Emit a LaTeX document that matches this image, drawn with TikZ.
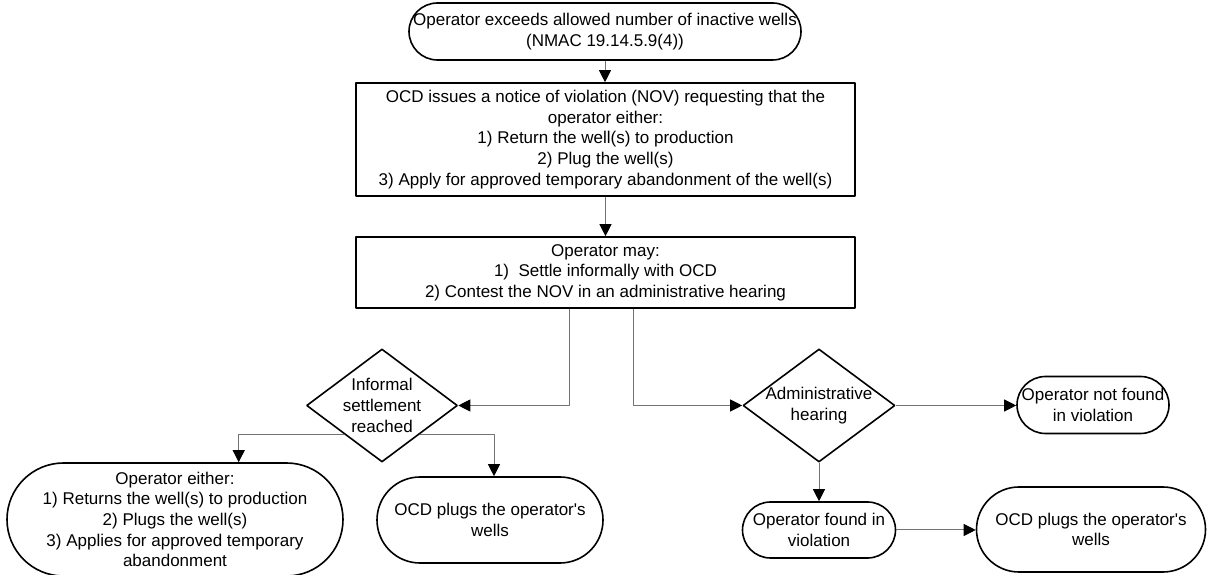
\documentclass[tikz,border=0pt]{standalone}
\usepackage{fontspec}
\setmainfont{Liberation Sans}[Ligatures=TeXOff]
\usetikzlibrary{arrows.meta,shapes.geometric}
\begin{document}
\begin{tikzpicture}[>={Triangle[length=6bp,width=6bp,color=black]},line join=bevel,
  every node/.style={font=\fontsize{8.5bp}{10.3bp}\selectfont,align=center,inner sep=0pt},
  terminal/.style={rectangle,draw,line width=0.8bp,rounded corners=#1},
  process/.style={rectangle,draw,line width=0.8bp},
  decision/.style={diamond,draw,line width=0.8bp},
  conn/.style={draw=black!55,line width=0.5bp,->},
]
%%
\useasboundingbox [fill=white] (0bp,0bp) rectangle (604.5bp,287.5bp);
\node (node_0) at (302.5bp,270.75bp) [terminal=14.25bp,minimum width=196bp,minimum height=28.5bp,yshift=1bp] {Operator exceeds allowed number of inactive wells\\(NMAC 19.14.5.9(4))};
  \node (node_1) at (302.75bp,217.75bp) [process,minimum width=249.5bp,minimum height=56.5bp] {OCD issues a notice of violation (NOV) requesting that the\\operator either:\\1) Return the well(s) to production\\2) Plug the well(s)\\3) Apply for approved temporary abandonment of the well(s)};
  \node (node_2) at (302.75bp,151.25bp) [process,minimum width=249.5bp,minimum height=35.5bp] {Operator may:\\1)\ \ Settle informally with OCD\\2) Contest the NOV in an administrative hearing};
  \node (node_3) at (191bp,84.75bp) [decision,minimum width=75.5bp,minimum height=56.5bp] {};
  \node (node_3_text) at (node_3) {Informal\\settlement\\reached};
  \node (node_4) at (409.5bp,84.75bp) [decision,minimum width=76bp,minimum height=56.5bp] {};
  \node (node_4_text) at (node_4) {Administrative\\hearing};
  \node (node_5) at (546.5bp,85bp) [terminal=14.25bp,minimum width=76bp,minimum height=28.5bp] {Operator not found\\in violation};
  \node (node_6) at (409.5bp,22.5bp) [terminal=14bp,minimum width=76.5bp,minimum height=28bp] {Operator found in\\violation};
  \node (node_7) at (545.5bp,22.75bp) [terminal=21.25bp,minimum width=114.5bp,minimum height=42.5bp] {OCD plugs the operator's\\wells};
  \node (node_8) at (87.5bp,27.75bp) [terminal=28.25bp,minimum width=168bp,minimum height=56.5bp] {Operator either:\\1) Returns the well(s) to production\\2) Plugs the well(s)\\3) Applies for approved temporary\\abandonment};
  \node (node_9) at (245bp,27.5bp) [terminal=21.5bp,minimum width=113bp,minimum height=43bp] {OCD plugs the operator's\\wells};
%
  \draw [conn] (node_0.south) -- (node_0.south |- node_1.north);
  \draw [conn] (node_1.south) -- (node_1.south |- node_2.north);
  \draw [conn] ([xshift=-18.25bp]node_2.south) |- (node_3.east);
  \draw [conn] ([xshift=13.75bp]node_2.south) |- (node_4.west);
  \draw [conn] (node_3.south west) -| ([xshift=31.85bp]node_8.north);
  \draw [conn] (node_3.south east) -| ([xshift=2bp]node_9.north);
  \draw [conn] (node_4.east) -- (node_4.east -| node_5.west);
  \draw [conn] (node_4.south) -- (node_4.south |- node_6.north);
  \draw [conn] (node_6.east) -- (node_6.east -| node_7.west);
%
\end{tikzpicture}
\end{document}
